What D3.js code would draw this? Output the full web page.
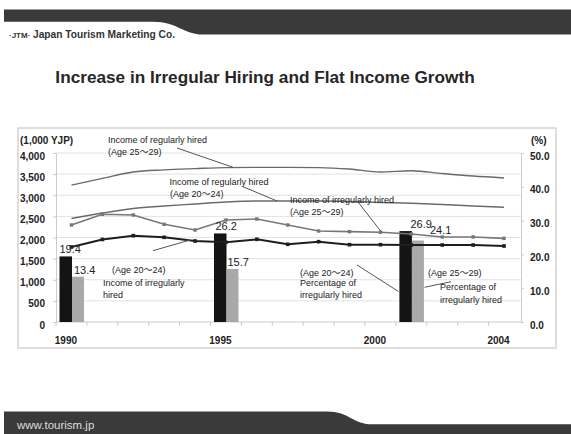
<!DOCTYPE html>
<html>
<head>
<meta charset="utf-8">
<script src="https://cdn.jsdelivr.net/npm/d3@7"></script>
<style>
html,body{margin:0;padding:0;background:#fff;}
svg{display:block;font-family:"Liberation Sans",Arial,"Noto Sans CJK JP",sans-serif;}
</style>
</head>
<body>
<svg id="chart" width="571" height="434"></svg>
<script>
// ---- data ----
const years = [1990,1991,1992,1993,1994,1995,1996,1997,1998,1999,2000,2001,2002,2003,2004];
const incomeRegular2529   = [3240,3400,3550,3600,3630,3655,3660,3660,3655,3620,3550,3580,3515,3455,3410];
const incomeRegular2024   = [2450,2580,2687,2746,2793,2840,2864,2864,2864,2852,2829,2810,2781,2746,2715];
const incomeIrregular2529 = [2296,2550,2533,2312,2178,2414,2438,2296,2154,2138,2124,2083,2012,2012,1980];
const incomeIrregular2024 = [1775,1953,2043,2005,1917,1886,1957,1839,1901,1830,1830,1822,1822,1822,1799];
const barYears   = [1990,1995,2001];
const pctAge2024 = [19.4,26.2,26.9];
const pctAge2529 = [13.4,15.7,24.1];
const leftTicks  = [0,500,1000,1500,2000,2500,3000,3500,4000];
const rightTicks = [0,10,20,30,40,50];
const xTickLabels = [1990,1995,2000,2004];

const svg = d3.select("#chart");

// ---- header / footer bands ----
svg.append("path").attr("d","M4,9.5 H571 V34.5 H203 C183,34.5 178,21.7 153,21.7 H4 Z").attr("fill","#3a3a3a");
svg.append("text").attr("x",9).attr("y",37.5).attr("font-size",8).attr("font-weight","bold").attr("fill","#333").text("·JTM·");
svg.append("text").attr("x",33).attr("y",37.5).attr("font-size",11).attr("font-weight","bold").attr("fill","#333")
  .attr("textLength",142).attr("lengthAdjust","spacingAndGlyphs").text("Japan Tourism Marketing Co.");
svg.append("path").attr("d","M4,411.5 H327 C350,411.5 352,424.3 372,424.3 H571 V434 H4 Z").attr("fill","#3a3a3a");
svg.append("text").attr("x",17).attr("y",429).attr("font-size",11.5).attr("fill","#ddd").text("www.tourism.jp");

// ---- title ----
svg.append("text").attr("x",265).attr("y",82.5).attr("text-anchor","middle").attr("font-size",17.2)
  .attr("font-weight","bold").attr("fill","#262626").text("Increase in Irregular Hiring and Flat Income Growth");

// ---- frame ----
svg.append("rect").attr("x",18).attr("y",128).attr("width",538).attr("height",220)
  .attr("fill","none").attr("stroke","#d4d4d4").attr("stroke-width",1.5);

// ---- scales ----
const x = d3.scaleBand().domain(years).range([56,519.5]).padding(0);
const y = d3.scaleLinear().domain([0,4000]).range([322,153]);
const yR = d3.scaleLinear().domain([0,50]).range([322,153]);
const cx = d => x(d) + x.bandwidth()/2;

// gridlines
svg.append("g").selectAll("line").data(leftTicks.filter(d=>d>0)).join("line")
  .attr("x1",56).attr("x2",521).attr("y1",d=>y(d)).attr("y2",d=>y(d))
  .attr("stroke","#e2e2e2").attr("stroke-width",1);

// left axis
const gL = svg.append("g").attr("transform","translate(56,0)")
  .call(d3.axisLeft(y).tickValues(leftTicks).tickFormat(d3.format(",")).tickSize(3).tickPadding(8));
gL.select(".domain").attr("stroke","#ccc");
gL.selectAll(".tick line").attr("stroke","#ccc");
gL.selectAll("text").attr("font-size",10).attr("font-weight","bold").attr("fill","#222")
  .attr("font-family","Liberation Sans,Arial,sans-serif").attr("dy","0.6em").attr("x",-11);

// right axis
const gR = svg.append("g").attr("transform","translate(521,0)")
  .call(d3.axisRight(yR).tickValues(rightTicks).tickFormat(d3.format(".1f")).tickSize(3).tickPadding(6));
gR.select(".domain").attr("stroke","#ccc");
gR.selectAll(".tick line").attr("stroke","#ccc");
gR.selectAll("text").attr("font-size",10).attr("font-weight","bold").attr("fill","#222")
  .attr("font-family","Liberation Sans,Arial,sans-serif").attr("dy","0.6em").attr("x",9);

// x axis
svg.append("line").attr("x1",56).attr("x2",521).attr("y1",322).attr("y2",322).attr("stroke","#ccc");
svg.append("g").selectAll("line").data(years).join("line")
  .attr("x1",d=>x(d)).attr("x2",d=>x(d)).attr("y1",322).attr("y2",326).attr("stroke","#ccc");
svg.append("g").selectAll("text").data(xTickLabels).join("text")
  .attr("x",d=>cx(d)-5.5).attr("y",344).attr("text-anchor","middle")
  .attr("font-size",10).attr("font-weight","bold").attr("fill","#222").text(d=>d);

// axis titles
svg.append("text").attr("x",20).attr("y",143.5).attr("font-size",10).attr("font-weight","bold").attr("fill","#222").text("(1,000 YJP)");
svg.append("text").attr("x",531).attr("y",143.5).attr("font-size",10).attr("font-weight","bold").attr("fill","#222").text("(%)");

// ---- bars ----
const bars = barYears.map((yr,i)=>({yr, a:pctAge2024[i], b:pctAge2529[i]}));
svg.append("g").selectAll("rect").data(bars).join("rect")
  .attr("x",d=>x(d.yr)+3.5).attr("width",12.5).attr("y",d=>yR(d.a)).attr("height",d=>yR(0)-yR(d.a)).attr("fill","#141414");
svg.append("g").selectAll("rect").data(bars).join("rect")
  .attr("x",d=>x(d.yr)+16).attr("width",12).attr("y",d=>yR(d.b)).attr("height",d=>yR(0)-yR(d.b)).attr("fill","#a9a9a9");

// ---- lines ----
const smooth = d3.line().x((d,i)=>cx(years[i])).y(d=>y(d)).curve(d3.curveMonotoneX);
const straight = d3.line().x((d,i)=>cx(years[i])).y(d=>y(d));
svg.append("path").attr("d",smooth(incomeRegular2529)).attr("fill","none").attr("stroke","#6a6a6a").attr("stroke-width",1.4);
svg.append("path").attr("d",smooth(incomeRegular2024)).attr("fill","none").attr("stroke","#6a6a6a").attr("stroke-width",1.4);
svg.append("path").attr("d",straight(incomeIrregular2529)).attr("fill","none").attr("stroke","#777").attr("stroke-width",1.6);
svg.append("g").selectAll("rect").data(incomeIrregular2529).join("rect")
  .attr("x",(d,i)=>cx(years[i])-1.7).attr("y",d=>y(d)-1.7).attr("width",3.4).attr("height",3.4).attr("fill","#777");
svg.append("path").attr("d",straight(incomeIrregular2024)).attr("fill","none").attr("stroke","#1e1e1e").attr("stroke-width",2);
svg.append("g").selectAll("rect").data(incomeIrregular2024).join("rect")
  .attr("x",(d,i)=>cx(years[i])-1.8).attr("y",d=>y(d)-1.8).attr("width",3.6).attr("height",3.6).attr("fill","#1e1e1e");

// ---- bar value labels ----
const blackLabelDx = [0,1.5,11];
const grayLabelDx  = [2,1,18];
svg.append("g").selectAll("text").data(bars).join("text")
  .attr("x",(d,i)=>x(d.yr)+3.5+blackLabelDx[i]).attr("y",(d)=>yR(d.a)-3.5)
  .attr("font-size",11).attr("fill","#222").text(d=>d.a.toFixed(1));
svg.append("g").selectAll("text").data(bars).join("text")
  .attr("x",(d,i)=>x(d.yr)+16+grayLabelDx[i]).attr("y",(d,i)=>yR(d.b)-(i===2?7:3))
  .attr("font-size",11).attr("fill","#222").text(d=>d.b.toFixed(1));

// ---- annotations ----
const notes = [
  {lines:[[108,143,"Income of regularly hired"],[108,155,"(Age 25～29)"]], lead:[177,148,233,167.3]},
  {lines:[[169.5,185,"Income of regularly hired"],[170,196.5,"(Age 20～24)"]], lead:[243,186.7,277,201]},
  {lines:[[290,203,"Income of irregularly hired"],[290,215,"(Age 25～29)"]], lead:[358,202,381,231.5]},
  {lines:[[112,272.5,"(Age 20～24)"],[103,286,"Income of irregularly"],[103,297.5,"hired"]], lead:[153,250.7,190,240]},
  {lines:[[300,275.5,"(Age 20～24)"],[300,286,"Percentage of"],[300,297.5,"irregularly hired"]], lead:[357,265,398.5,291.5]},
  {lines:[[428,275.5,"(Age 25～29)"],[440,290,"Percentage of"],[440,302.5,"irregularly hired"]], lead:[424.5,287.3,451,281.7]}
];
notes.forEach(n=>{
  svg.append("line").attr("x1",n.lead[0]).attr("y1",n.lead[1]).attr("x2",n.lead[2]).attr("y2",n.lead[3])
    .attr("stroke","#555").attr("stroke-width",1);
  n.lines.forEach(l=>{
    svg.append("text").attr("x",l[0]).attr("y",l[1]).attr("font-size",9).attr("fill","#222").text(l[2]);
  });
});
</script>
</body>
</html>
